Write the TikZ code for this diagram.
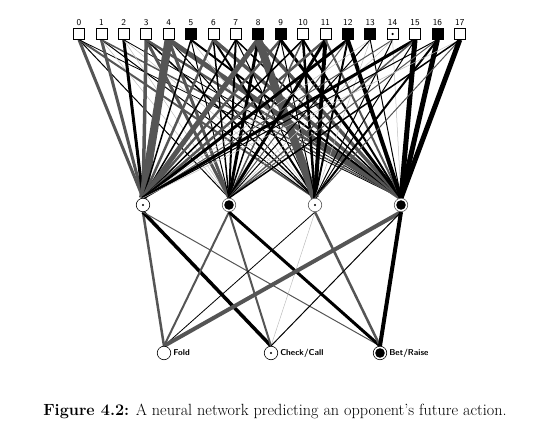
\documentclass[tikz,border=0pt]{standalone}
\usetikzlibrary{backgrounds}

\definecolor{wgrey}{RGB}{85,85,85}
\definecolor{wlight}{RGB}{190,190,190}

\tikzset{
  inbox/.style={draw, fill=white, minimum size=11pt, inner sep=0pt, line width=0.6pt},
  inon/.style={inbox, fill=black},
  neuron/.style={circle, draw, fill=white, minimum size=13.5pt, inner sep=0pt, line width=0.6pt},
  wk/.style={draw=black},
  wg/.style={draw=wgrey},
  wl/.style={draw=wlight},
  outlabel/.style={font=\sffamily\bfseries\fontsize{8.5}{10}\selectfont, anchor=west, inner sep=2pt}
}

\begin{document}
\begin{tikzpicture}[x=1pt, y=-1pt]
\useasboundingbox (0,0) rectangle (539,435);

% input layer
\foreach \i/\s in {0/inbox,1/inbox,2/inbox,3/inbox,4/inbox,5/inon,6/inbox,7/inbox,8/inon,
                   9/inon,10/inbox,11/inbox,12/inon,13/inon,14/inbox,15/inbox,16/inon,17/inbox}
  \node[\s] (in\i) at (79+22.4*\i,34) {};
\fill (in14) circle (1.2pt);
\foreach \i in {0,...,17}
  \node[font=\sffamily\fontsize{9}{10}\selectfont, anchor=south, inner sep=1pt] (num\i) at ([yshift=1.5pt]in\i.north) {\i};

% hidden layer
\node[neuron] (h1) at (143,205) {};
\node[neuron, draw=wgrey] (h2) at (229,205) {};
\node[neuron, draw=wgrey] (h3) at (315,205) {};
\node[neuron, draw=wgrey] (h4) at (401,205) {};
\fill (h1) circle (1.1pt);
\fill (h2) circle (4.8pt);
\fill (h3) circle (1.1pt);
\fill (h4) circle (4.8pt);

% output layer
\node[neuron] (fold) at (164,353) {};
\node[neuron] (check) at (271,353) {};
\node[neuron] (bet) at (380,353) {};
\fill (check) circle (1.2pt);
\fill (bet) circle (4.8pt);
\node[outlabel] (foldlab) at (fold.east) {Fold};
\node[outlabel] (checklab) at (check.east) {Check/Call};
\node[outlabel] (betlab) at (bet.east) {Bet/Raise};

\begin{scope}[on background layer]
% input -> hidden weights
\foreach \i/\ca/\wa/\cb/\wb/\cc/\wc/\cd/\wd in {
   0/wg/3/wk/1/wg/2/wk/0.8,
   1/wg/3/wl/0.5/wk/1/wg/1.5,
   2/wk/3/wl/0.5/wl/0.5/wk/0.8,
   3/wg/3.5/wg/3/wk/1.5/wg/2.5,
   4/wg/8/wg/3/wk/1/wg/5,
   5/wk/1.5/wk/1/wl/0.5/wk/2,
   6/wg/2.5/wk/1.5/wk/2/wg/3.5,
   7/wk/1.5/wk/2/wk/1/wk/1.5,
   8/wg/5/wk/3/wg/8/wg/3.5,
   9/wg/2.5/wk/1.5/wk/1/wk/3,
   10/wk/1.5/wg/1.5/wk/2.5/wk/2,
   11/wg/2.5/wk/3/wk/4/wg/2,
   12/wk/3/wg/1/wk/2/wk/4,
   13/wl/0.5/wk/1/wl/0.5/wk/1,
   14/wg/1/wl/0.5/wk/1/wl/0.5,
   15/wk/3/wg/1.5/wk/1/wk/5,
   16/wk/1/wg/1/wk/2/wk/5,
   17/wl/0.5/wk/1.5/wg/1/wk/5}{
  \draw[\ca, line width=\wa pt] (in\i.south) -- (h1.north);
  \draw[\cb, line width=\wb pt] (in\i.south) -- (h2.north);
  \draw[\cc, line width=\wc pt] (in\i.south) -- (h3.north);
  \draw[\cd, line width=\wd pt] (in\i.south) -- (h4.north);
}
% hidden -> output weights
\foreach \h/\ca/\wa/\cb/\wb/\cc/\wc in {
   h1/wg/2.5/wk/3.5/wg/1,
   h2/wg/2/wg/2/wk/3,
   h3/wk/0.8/wl/0.5/wg/2.5,
   h4/wg/4/wk/1/wk/4}{
  \draw[\ca, line width=\wa pt] (\h.south) -- (fold.north);
  \draw[\cb, line width=\wb pt] (\h.south) -- (check.north);
  \draw[\cc, line width=\wc pt] (\h.south) -- (bet.north);
}
\end{scope}

\node[font=\fontsize{16.2}{19}\selectfont] (caption) at (275,411) {\textbf{Figure 4.2:} A neural network predicting an opponent's future action.};
\end{tikzpicture}
\end{document}
